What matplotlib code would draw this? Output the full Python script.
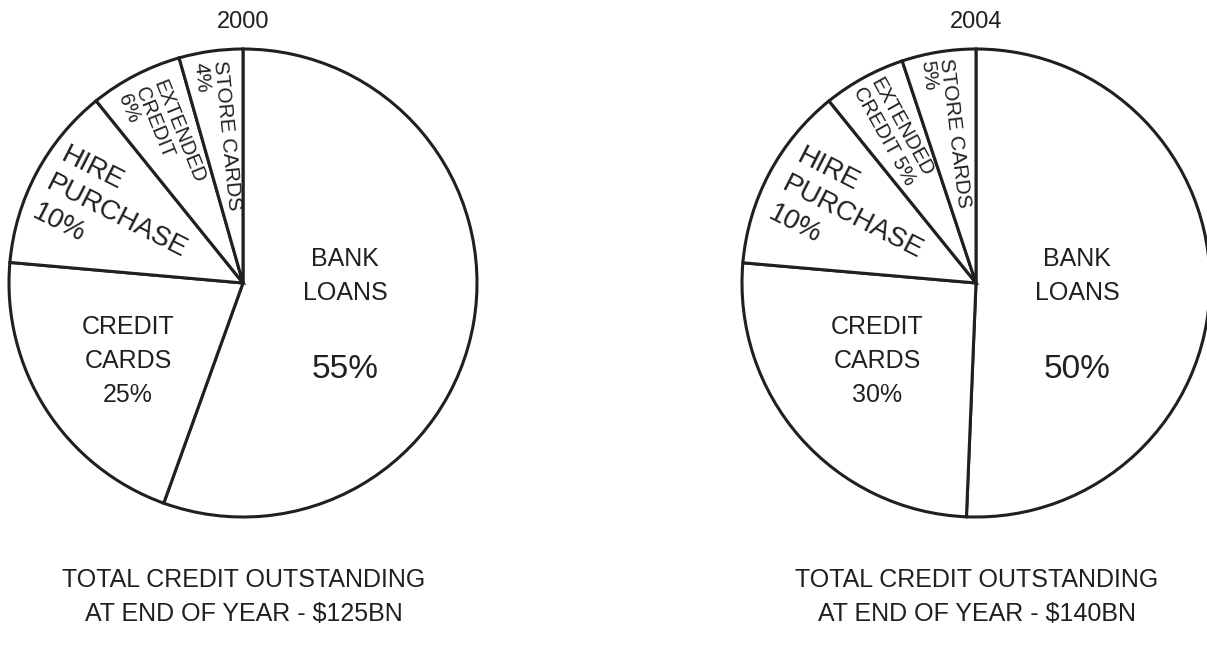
import matplotlib
matplotlib.use("Agg")
import matplotlib.pyplot as plt

# ---------------- data ----------------
years = ["2000", "2004"]
categories = ["BANK LOANS", "CREDIT CARDS", "HIRE PURCHASE", "EXTENDED CREDIT", "STORE CARDS"]
printed_pct_2000 = [55, 25, 10, 6, 4]
printed_pct_2004 = [50, 30, 10, 5, 5]
# slice sizes as drawn in the picture
drawn_share_2000 = [55.5, 20.9, 12.8, 6.4, 4.4]
drawn_share_2004 = [50.6, 25.7, 12.8, 5.7, 5.1]
totals = ["$125BN", "$140BN"]

# ---------------- style ----------------
INK = "#231f20"
FONT = ["Liberation Sans", "DejaVu Sans"]
W, H = 1207, 653

fig = plt.figure(figsize=(W / 100, H / 100), dpi=100)
ax = fig.add_axes([0, 0, 1, 1])

centers = [(243, H - 283), (976, H - 283)]
radius = 234

label_templates = [
    "BANK\nLOANS",
    "CREDIT\nCARDS\n{p}%",
    "HIRE\nPURCHASE\n{p}%",
    None,  # extended credit differs per chart
    "STORE CARDS\n{p}%",
]

# per-chart text layout (image px coords, y down)
layouts = [
    {
        "bank": (345, 276), "bankpct": (345, 369),
        "cc": (128, 361),
        "hp": (117, 217, -27, 20),
        "ec": (161, 139, -68, 14.5, "EXTENDED\nCREDIT\n{p}%"),
        "sc": (217, 136, -84.4, 15),
    },
    {
        "bank": (1077, 276), "bankpct": (1077, 369),
        "cc": (877, 361),
        "hp": (853, 218, -27, 20),
        "ec": (893, 132, -61, 14.5, "EXTENDED\nCREDIT {p}%"),
        "sc": (945, 134, -83, 15),
    },
]

for i, (year, pcts, shares, total) in enumerate(zip(
        years, [printed_pct_2000, printed_pct_2004],
        [drawn_share_2000, drawn_share_2004], totals)):
    cx, cy = centers[i]
    ax.pie(shares, startangle=90, counterclock=False, center=(cx, cy),
           radius=radius,
           wedgeprops=dict(facecolor="white", edgecolor=INK, linewidth=2.2,
                           joinstyle="miter"))
    L = layouts[i]
    tk = dict(color=INK, family=FONT, ha="center", va="center")
    ax.text(cx, H - 22, year, fontsize=17, **tk)
    bx, by = L["bank"]
    ax.text(bx, H - by, label_templates[0], fontsize=18, linespacing=1.5, **tk)
    px, py = L["bankpct"]
    ax.text(px, H - py, f"{pcts[0]}%", fontsize=24, **tk)
    x, y = L["cc"]
    ax.text(x, H - y, label_templates[1].format(p=pcts[1]), fontsize=18,
            linespacing=1.55, **tk)
    x, y, rot, fs = L["hp"]
    ax.text(x, H - y, label_templates[2].format(p=pcts[2]), fontsize=fs,
            rotation=rot, rotation_mode="anchor", multialignment="left",
            linespacing=1.3, **tk)
    x, y, rot, fs, tpl = L["ec"]
    ax.text(x, H - y, tpl.format(p=pcts[3]), fontsize=fs,
            rotation=rot, rotation_mode="anchor", multialignment="left",
            linespacing=1.0, **tk)
    x, y, rot, fs = L["sc"]
    ax.text(x, H - y, label_templates[4].format(p=pcts[4]), fontsize=fs,
            rotation=rot, rotation_mode="anchor", multialignment="left",
            linespacing=1.0, **tk)
    ax.text(cx + 1, H - 597, f"TOTAL CREDIT OUTSTANDING\nAT END OF YEAR - {total}",
            fontsize=18, linespacing=1.5, **tk)

ax.set_xlim(0, W)
ax.set_ylim(0, H)
ax.set_aspect("equal")
ax.axis("off")

fig.savefig("out.png", dpi=100, facecolor="white")
